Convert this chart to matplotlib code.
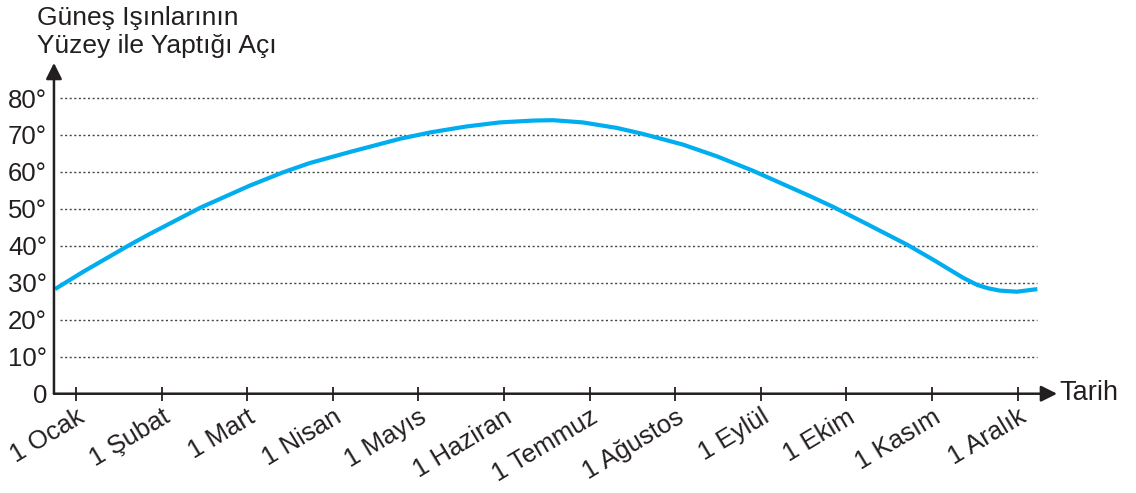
import numpy
from matplotlib import pyplot

# month labels on the x axis (tick i = 1st day of month i)
months = ['1 Ocak', '1 Şubat', '1 Mart', '1 Nisan', '1 Mayıs', '1 Haziran',
          '1 Temmuz', '1 Ağustos', '1 Eylül', '1 Ekim', '1 Kasım', '1 Aralık']

# curve: position in months, angle in degrees
t = [-0.245, 0.085, 0.63, 0.86, 1.45, 2.03, 2.42, 2.73, 3.20, 3.79, 4.14,
     4.56, 4.95, 5.34, 5.57, 5.92, 6.32, 6.62, 7.09, 7.49, 7.91, 8.26, 8.58,
     8.84, 9.24, 9.71, 10.01, 10.36, 10.53, 10.66, 10.79, 10.99, 11.23]
angle = [28.3, 33.0, 40.3, 43.2, 50.3, 56.3, 59.9, 62.4, 65.4, 69.0, 70.7,
         72.3, 73.4, 73.9, 74.0, 73.4, 71.9, 70.3, 67.4, 64.2, 60.3, 56.7, 53.4,
         50.6, 45.9, 40.3, 36.3, 31.4, 29.4, 28.5, 27.9, 27.6, 28.3]

yticks = [0, 10, 20, 30, 40, 50, 60, 70, 80]
ylabels = ['0', '10°', '20°', '30°', '40°', '50°', '60°', '70°', '80°']

ink = '#231F20'
blue = '#00AEEF'

pyplot.rcParams['font.family'] = ['Liberation Sans', 'DejaVu Sans']

fig = pyplot.figure(figsize=(11.36, 4.93), dpi=100, facecolor='white')
ax = fig.add_axes([0.0475, 0.2014, 0.883, 0.671])

x_left, x_right = -0.257, 11.46
y_top = 89.5
ax.set_xlim(x_left, x_right)
ax.set_ylim(0, y_top)

# dotted guide lines
ax.hlines(yticks[1:], -0.19, 11.22, colors='#444444', linestyles=(0, (1.5, 1.8)), linewidth=1.0)

# the curve
ax.plot(t, angle, color=blue, linewidth=3.0, solid_capstyle='butt',
        solid_joinstyle='round', zorder=3)

# remove the box, draw arrow axes by hand
for s in ax.spines.values():
    s.set_visible(False)
arrow = dict(arrowstyle='-|>', color=ink, lw=1.8, mutation_scale=24, shrinkA=0, shrinkB=0)
ax.annotate('', xy=(x_left, y_top), xytext=(x_left, 0), arrowprops=arrow, annotation_clip=False)
ax.annotate('', xy=(x_right, 0), xytext=(x_left, 0), arrowprops=arrow, annotation_clip=False)

ax.set_xticks(numpy.arange(len(months)))
ax.set_xticklabels(months, rotation=31, ha='right', va='top', rotation_mode='anchor',
                   fontsize=18.5, color=ink)
ax.tick_params(axis='x', direction='inout', length=10, width=1.3, color=ink, pad=3)

ax.set_yticks(yticks)
ax.set_yticklabels(ylabels, fontsize=18.5, color=ink)
ax.tick_params(axis='y', length=0, pad=5)

fig.text(37 / 1136, 1 - 25 / 493, 'Güneş Işınlarının', fontsize=19, color=ink, va='baseline')
fig.text(37 / 1136, 1 - 53 / 493, 'Yüzey ile Yaptığı Açı', fontsize=19, color=ink, va='baseline')
fig.text(1059 / 1136, 1 - 393 / 493, 'Tarih', fontsize=19.5, color=ink, va='center')

pyplot.savefig('out.png', dpi=100, facecolor='white')
